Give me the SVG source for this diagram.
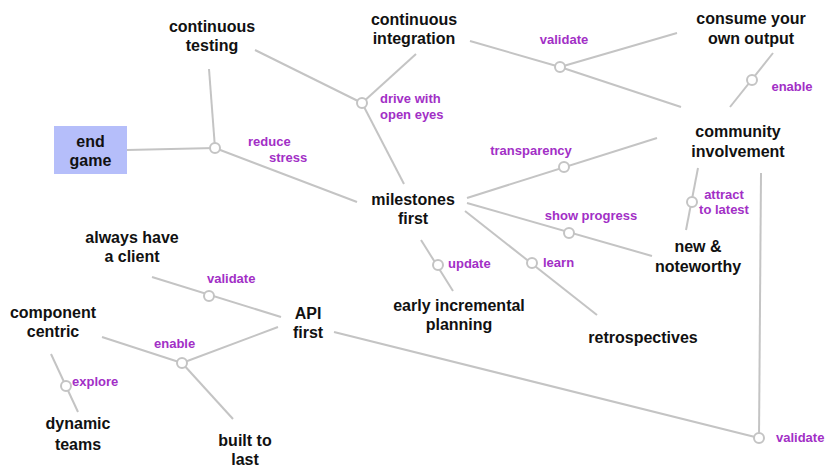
<svg xmlns="http://www.w3.org/2000/svg" width="826" height="470" viewBox="0 0 826 470">
  <style>
    .node { font-family: "Liberation Sans", Arial, sans-serif; font-size: 16px; font-weight: bold; fill: #111; text-anchor: middle; }
    .lbl { font-family: "Liberation Sans", Arial, sans-serif; font-size: 13px; font-weight: bold; fill: #a22fc6; }
    .mid { text-anchor: middle; }
    .edge line, .edge polyline { stroke: #c4c4c4; stroke-width: 2; fill: none; }
    .hub { fill: #fff; stroke: #c4c4c4; stroke-width: 2; }
  </style>
  <rect width="826" height="470" fill="#fff"/>

  <!-- connectors: each relation runs through a small hub circle -->
  <g id="connectors" class="edge">
    <!-- reduce stress -->
    <line x1="127" y1="150" x2="215" y2="148"/>
    <line x1="209" y1="69" x2="215" y2="148"/>
    <line x1="215" y1="148" x2="357" y2="202"/>
    <!-- drive with open eyes -->
    <line x1="255" y1="50" x2="362" y2="103"/>
    <line x1="416" y1="54" x2="362" y2="103"/>
    <line x1="362" y1="103" x2="404" y2="184"/>
    <!-- validate (top) -->
    <line x1="470" y1="41" x2="560" y2="67"/>
    <line x1="677" y1="33" x2="560" y2="67"/>
    <line x1="560" y1="67" x2="681" y2="107"/>
    <!-- enable (consume your own output) -->
    <line x1="773" y1="53" x2="730" y2="107"/>
    <!-- transparency -->
    <line x1="467" y1="198" x2="657" y2="138"/>
    <!-- attract to latest -->
    <line x1="698" y1="168" x2="686" y2="230"/>
    <!-- show progress -->
    <line x1="467" y1="203" x2="652" y2="256"/>
    <!-- learn -->
    <line x1="465" y1="211" x2="597" y2="315"/>
    <!-- update -->
    <line x1="421" y1="240" x2="453" y2="291"/>
    <!-- validate (bottom right) -->
    <line x1="334" y1="332" x2="759" y2="438"/>
    <line x1="761" y1="173" x2="759" y2="438"/>
    <!-- validate (always have a client) -->
    <line x1="152" y1="277" x2="281" y2="317"/>
    <!-- enable (API first) -->
    <line x1="102" y1="337" x2="182" y2="363"/>
    <line x1="278" y1="327" x2="182" y2="363"/>
    <line x1="182" y1="363" x2="233" y2="419"/>
    <!-- explore -->
    <line x1="51" y1="354" x2="78" y2="412"/>

    <circle class="hub" cx="215" cy="148" r="5"/>
    <circle class="hub" cx="362" cy="103" r="5"/>
    <circle class="hub" cx="560" cy="67" r="5"/>
    <circle class="hub" cx="752" cy="80" r="5"/>
    <circle class="hub" cx="564" cy="167" r="5"/>
    <circle class="hub" cx="692" cy="202" r="5"/>
    <circle class="hub" cx="569" cy="233" r="5"/>
    <circle class="hub" cx="532" cy="263" r="5"/>
    <circle class="hub" cx="438" cy="265" r="5"/>
    <circle class="hub" cx="759" cy="438" r="5"/>
    <circle class="hub" cx="209" cy="296" r="5"/>
    <circle class="hub" cx="182" cy="363" r="5"/>
    <circle class="hub" cx="66" cy="386" r="5"/>
  </g>

  <!-- relation labels -->
  <g id="labels">
    <text class="lbl" x="248" y="146">reduce</text>
    <text class="lbl" x="269" y="162">stress</text>
    <text class="lbl" x="380" y="103">drive with</text>
    <text class="lbl" x="380" y="119">open eyes</text>
    <text class="lbl mid" x="564" y="44">validate</text>
    <text class="lbl mid" x="792" y="91">enable</text>
    <text class="lbl mid" x="531" y="155">transparency</text>
    <text class="lbl mid" x="724" y="199">attract</text>
    <text class="lbl mid" x="724" y="214">to latest</text>
    <text class="lbl mid" x="591" y="220">show progress</text>
    <text class="lbl" x="448" y="268">update</text>
    <text class="lbl" x="543" y="267">learn</text>
    <text class="lbl" x="776" y="442">validate</text>
    <text class="lbl" x="207" y="283">validate</text>
    <text class="lbl" x="154" y="348">enable</text>
    <text class="lbl" x="72" y="386">explore</text>
  </g>

  <!-- nodes -->
  <g id="end-game">
    <rect x="54" y="126" width="73" height="48" fill="#b5befa"/>
    <text class="node" x="90.5" y="147">end</text>
    <text class="node" x="90.5" y="166">game</text>
  </g>
  <g id="continuous-testing">
    <text class="node" x="212" y="32">continuous</text>
    <text class="node" x="212" y="51">testing</text>
  </g>
  <g id="continuous-integration">
    <text class="node" x="414" y="25">continuous</text>
    <text class="node" x="414" y="44">integration</text>
  </g>
  <g id="consume-your-own-output">
    <text class="node" x="751" y="24">consume your</text>
    <text class="node" x="751" y="44">own output</text>
  </g>
  <g id="community-involvement">
    <text class="node" x="738" y="137">community</text>
    <text class="node" x="738" y="157">involvement</text>
  </g>
  <g id="milestones-first">
    <text class="node" x="413" y="205">milestones</text>
    <text class="node" x="413" y="224">first</text>
  </g>
  <g id="new-noteworthy">
    <text class="node" x="698" y="252">new &amp;</text>
    <text class="node" x="698" y="272">noteworthy</text>
  </g>
  <g id="retrospectives">
    <text class="node" x="643" y="343">retrospectives</text>
  </g>
  <g id="early-incremental-planning">
    <text class="node" x="459" y="311">early incremental</text>
    <text class="node" x="459" y="330">planning</text>
  </g>
  <g id="always-have-a-client">
    <text class="node" x="132" y="243">always have</text>
    <text class="node" x="132" y="262">a client</text>
  </g>
  <g id="api-first">
    <text class="node" x="308" y="319">API</text>
    <text class="node" x="308" y="338">first</text>
  </g>
  <g id="component-centric">
    <text class="node" x="53" y="318">component</text>
    <text class="node" x="53" y="337">centric</text>
  </g>
  <g id="dynamic-teams">
    <text class="node" x="78" y="429">dynamic</text>
    <text class="node" x="78" y="450">teams</text>
  </g>
  <g id="built-to-last">
    <text class="node" x="245" y="446">built to</text>
    <text class="node" x="245" y="465">last</text>
  </g>
</svg>
